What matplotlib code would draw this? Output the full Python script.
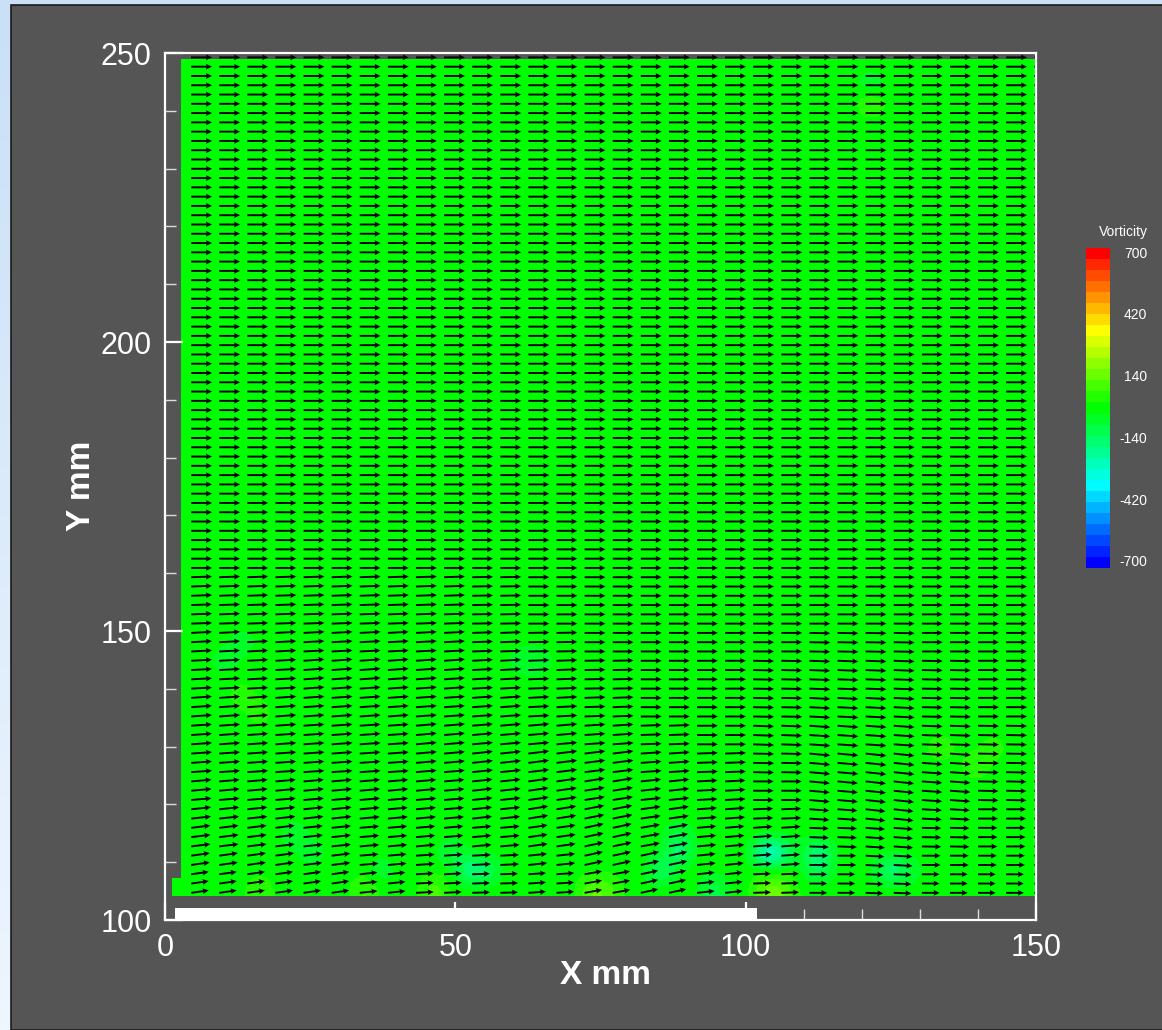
import numpy as np
import matplotlib.pyplot as plt
from matplotlib.colors import LinearSegmentedColormap, BoundaryNorm
from matplotlib.patches import Rectangle
from matplotlib.ticker import MultipleLocator

plt.rcParams['font.family'] = ['Liberation Sans', 'DejaVu Sans']

# vector grid (mm), every third PIV column is shown
vec_x = np.arange(4.5, 150, 4.84)
vec_y = np.arange(104.7, 249.5, 1.606)
arrow_len = 3.6

# flow direction (deg), per 10 mm column and y band
x_edges = np.arange(0, 151, 10)
band_edges = [104, 108, 112, 116, 120, 125, 130, 135, 140, 145, 150, 160, 251]
angle_deg = [
    [8, 8, 8, 6, 3, 2, 4, 10, 12, 6, 2, 0, -2, 0, 0],
    [8, 8, 7, 5, 4, 3, 6, 12, 12, 6, 4, 0, -3, 0, 0],
    [7, 7, 6, 5, 5, 5, 8, 12, 10, 5, 4, -2, -4, -1, 0],
    [6, 6, 6, 5, 5, 6, 9, 11, 8, 4, 2, -4, -6, -3, 0],
    [5, 5, 5, 5, 5, 6, 8, 9, 6, 3, 0, -5, -6, -4, -1],
    [4, 4, 4, 4, 5, 6, 7, 7, 4, 2, -1, -5, -6, -4, -1],
    [4, 4, 4, 4, 5, 5, 5, 4, 2, 0, -2, -4, -4, -2, -1],
    [4, 4, 4, 4, 4, 4, 3, 2, 0, 0, -1, -3, -3, -1, 0],
    [3, 3, 4, 4, 4, 3, 2, 1, 0, 0, -1, -2, -2, -1, 0],
    [3, 3, 3, 3, 3, 2, 1, 0, 0, 0, 0, -1, -1, 0, 0],
    [2, 2, 2, 2, 2, 1, 0, 0, 0, 0, 0, 0, 0, 0, 0],
    [0, 0, 0, 0, 0, 0, 0, 0, 0, 0, 0, 0, 0, 0, 0],
]
band_speed = [0.85, 0.9, 0.93, 0.96, 0.98, 1, 1, 1, 1, 1, 1, 1]

# vorticity patches (x mm, y mm, value)
vort_px = [104, 107, 105, 112, 113, 124, 126, 103, 106, 87, 85, 88, 73, 76,
           51, 54, 48, 45, 63, 60, 10, 14, 13, 16, 22, 26, 36, 133, 138, 142,
           121, 122, 95, 33, 15]
vort_py = [113, 113, 111, 111, 108, 109, 108, 106, 106, 112, 109, 115, 107, 105,
           110, 109, 112, 106, 146, 144, 146, 147, 138, 136, 116, 113, 108, 129,
           127, 130, 240, 245, 105, 105, 107]
vort_val = [-450, -400, -250, -300, -200, -250, -150, 180, 150, -250, -250, -150,
            160, 120, -280, -200, -150, 150, -120, -100, -100, -100, 100, 90,
            -120, -100, -100, 110, 120, 90, 150, -120, -150, 120, 100]

cbar_ticks = [700, 420, 140, -140, -420, -700]
levels = np.arange(-725, 726, 50)

cmap = LinearSegmentedColormap.from_list(
    'rainbow_tp', ['#0000ff', '#00ffff', '#00ff00', '#ffff00', '#ff0000'])
norm = BoundaryNorm(levels, cmap.N)

fig = plt.figure(figsize=(11.62, 10.30), dpi=100)
fig.patch.set_facecolor('#e4effb')

# light blue backdrop and gray panel
bg = fig.add_axes([0, 0, 1, 1], zorder=-10)
grad = np.linspace(0, 1, 256).reshape(-1, 1)
bg.imshow(grad, aspect='auto', extent=[0, 1, 0, 1],
          cmap=LinearSegmentedColormap.from_list('bgb', ['#c9e0f7', '#eef6fe']))
bg.axis('off')
fig.add_artist(Rectangle((11 / 1162, 0), 1, 1 - 5 / 1030, transform=fig.transFigure,
                         facecolor='#555555', edgecolor='#1a1a1a', lw=1.2, zorder=-5))

ax = fig.add_axes([165 / 1162, 1 - 920 / 1030, 871 / 1162, 867 / 1030])
ax.set_facecolor('none')

# vorticity field
x0, x1, y0, y1 = 2.75, 150, 104.2, 249
nx, ny = 49, 48
vort = np.zeros((ny, nx))
for px, py, v in zip(vort_px, vort_py, vort_val):
    ix = min(int((px - x0) / (x1 - x0) * nx), nx - 1)
    iy = min(int((py - y0) / (y1 - y0) * ny), ny - 1)
    vort[iy, ix] = v
im = ax.imshow(vort, origin='lower', extent=[x0, x1, y0, y1], cmap=cmap, norm=norm,
               interpolation='bicubic', interpolation_stage='data', aspect='auto')
ax.add_patch(Rectangle((1.2, 104.2), 1.6, 3.1, facecolor=cmap(norm(0)), lw=0))

# velocity vectors
X, Y = np.meshgrid(vec_x, vec_y)
ix = np.clip(np.searchsorted(x_edges, X, side='right') - 1, 0, 14)
iy = np.clip(np.searchsorted(band_edges, Y, side='right') - 1, 0, len(band_speed) - 1)
ang = np.radians(np.array(angle_deg)[iy, ix])
spd = np.array(band_speed)[iy] * arrow_len
ax.quiver(X, Y, spd * np.cos(ang), spd * np.sin(ang), angles='xy', scale_units='xy',
          scale=1, pivot='tail', width=0.0022, headwidth=3, headlength=3.2,
          headaxislength=2.8, color='black')

# plate
ax.add_patch(Rectangle((1.7, 100), 100.3, 2.1, facecolor='white', lw=0, zorder=3))

ax.set_xlim(0, 150)
ax.set_ylim(100, 250)
ax.xaxis.set_major_locator(MultipleLocator(50))
ax.yaxis.set_major_locator(MultipleLocator(50))
ax.xaxis.set_minor_locator(MultipleLocator(10))
ax.yaxis.set_minor_locator(MultipleLocator(10))
ax.tick_params(which='major', direction='in', length=13, width=1.6, color='white',
               labelcolor='white', labelsize=22)
ax.tick_params(which='minor', direction='in', length=8, width=1, color='#dddddd')
ax.tick_params(axis='x', which='major', pad=9)
ax.tick_params(axis='y', which='major', pad=9.5)
for s in ax.spines.values():
    s.set_color('white')
    s.set_linewidth(1.6)

fig.text(606 / 1162, 1 - 975 / 1030, 'X mm', ha='center', va='center',
         fontsize=24, fontweight='bold', color='white')
fig.text(82 / 1162, 1 - 486 / 1030, 'Y mm', ha='center', va='center', rotation=90,
         fontsize=24, fontweight='bold', color='white')

# colour legend
cax = fig.add_axes([1086 / 1162, 1 - 568 / 1030, 24 / 1162, 320 / 1030])
cb = fig.colorbar(im, cax=cax)
cb.outline.set_visible(False)
cb.set_ticks([])
cax.minorticks_off()
cax.tick_params(which='both', length=0)
for t in cbar_ticks:
    cax.text(2.55, t, str(t), transform=cax.get_yaxis_transform(), ha='right',
             va='center', fontsize=10, color='white')
fig.text(1123 / 1162, 1 - 232 / 1030, 'Vorticity', ha='center', va='center',
         fontsize=10, color='white')

fig.savefig('out.png', dpi=100, facecolor=fig.get_facecolor())
